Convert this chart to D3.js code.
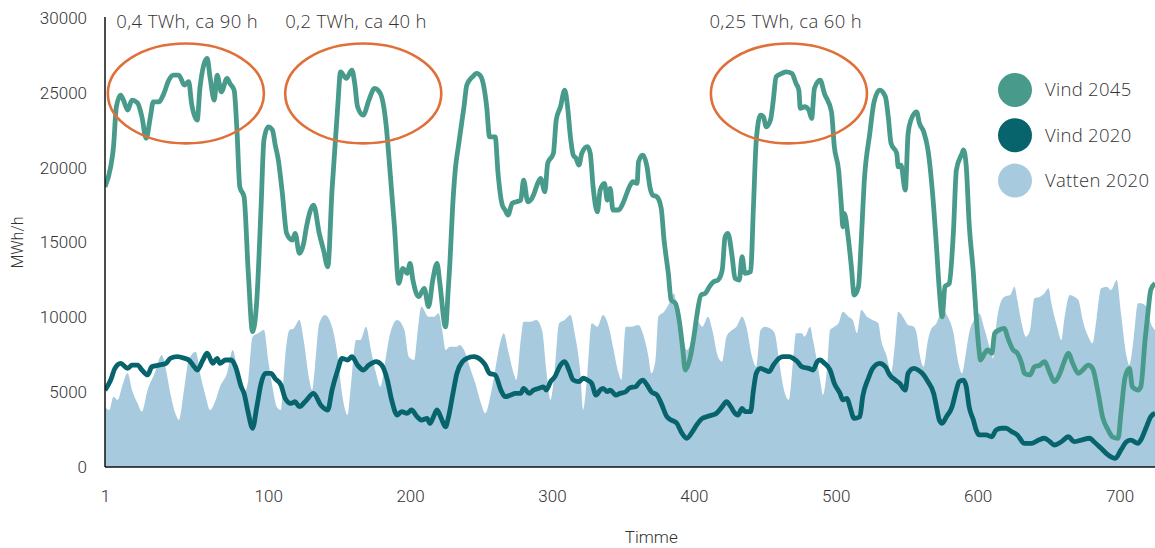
<!DOCTYPE html>
<html>
<head>
<meta charset="utf-8">
<script src="https://cdn.jsdelivr.net/npm/d3@7"></script>
<style>
  html, body { margin: 0; padding: 0; background: #fff; }
  svg { display: block; }
</style>
</head>
<body>
<svg id="chart" width="1155" height="548"></svg>
<script>
// ---------- DATA ----------
// hour positions (x) and MWh/h values
const vind2045Hours = [-15,-11,-9,-7,-4,-2,1,4,8,11,14,17,19,23,26,30,33,37,41,44,46,50,52,57,59,62,64,67,71,73,76,78,80,83,86,89,92,95,97,100,103,105,107,110,113,117,119,122,125,127,132,136,139,142,145,149,151,155,159,161,163,167,171,175,179,183,186,189,192,195,198,200,202,206,210,213,216,219,221,225,227,228,230,232,234,238,240,244,247,250,252,254,256,260,262,265,267,269,272,275,278,280,283,287,289,292,295,297,301,303,306,309,311,313,315,317,319,321,325,327,329,332,334,337,339,341,343,347,350,355,357,360,361,364,367,369,371,374,377,379,382,384,387,390,392,394,397,400,402,405,408,411,414,417,420,422,424,427,429,432,434,436,440,442,444,447,449,451,454,456,458,462,465,469,472,474,475,478,481,483,485,489,492,497,499,502,504,505,506,509,511,513,516,518,520,524,527,531,535,537,539,543,544,546,549,551,553,557,559,562,565,569,571,573,575,577,580,583,585,589,590,592,594,597,599,601,602,605,607,610,612,615,619,621,625,628,631,633,637,640,644,647,651,654,658,661,664,667,671,674,678,681,685,688,692,695,699,701,704,707,709,713,715,718,720,722,725];
const vind2045Values = [18720,20060,21400,24070,24850,24515,23850,24515,24310,23400,21960,23400,24400,24400,24850,25850,26185,26185,25520,25740,24300,23180,25400,27300,26070,24515,26185,25070,25970,25630,25180,22510,18720,18050,12940,9040,11160,17390,21840,22730,22510,21500,20600,18280,15610,15160,15610,14280,14940,16050,17500,15610,14500,13380,18500,24070,26400,25970,26520,25630,24070,23510,24515,25300,24960,22960,19620,16050,12270,13270,12940,13610,12490,11380,11940,10710,12490,13610,12270,9370,12000,13500,17390,20000,21400,24070,25520,26070,26300,26070,25400,24070,22060,22060,19620,17500,17170,16830,17620,17720,17830,19170,17720,18170,18720,19290,18390,20290,20950,23180,24070,25180,24070,22060,20840,20620,20170,20950,21400,20950,18720,17050,18500,18950,17830,18610,17170,17170,17620,18800,19060,18950,20390,20840,20060,18720,18170,18050,17280,15160,12940,11160,10940,9600,8040,6480,7150,8700,10040,11490,11600,12050,12380,12490,13160,15380,15610,14050,12600,12490,14050,12940,13050,17390,21840,23510,23400,22730,23180,24515,26070,26300,26400,26300,25630,25180,23960,24070,23850,23290,25300,25850,24960,23730,21400,19840,17390,16050,16950,15160,13380,11490,12050,15160,18950,22290,24400,25180,24740,23400,21620,20950,20060,20170,18500,22290,23180,23730,22960,22400,21180,17390,14720,11820,10040,12050,12270,15830,19840,20950,21180,20060,16280,12940,10040,7800,7150,7600,7820,7600,8930,9150,9260,8700,7820,7600,6930,6260,6150,6700,6810,7040,6260,5700,6260,7040,7600,6930,6260,6480,6810,6590,4920,3360,2470,2020,1920,3590,6030,6590,5360,5140,5360,8480,10270,11820,12270];

const vind2020Hours = [-15,-11,-8,-4,1,4,8,11,15,18,23,28,31,36,41,44,47,50,54,57,61,64,66,70,74,77,81,83,86,89,92,95,98,102,105,109,112,116,119,122,126,132,137,142,145,149,152,156,159,163,167,171,176,180,184,187,191,194,198,201,205,208,212,214,217,219,222,225,227,230,233,237,240,245,250,253,256,260,264,267,271,274,278,280,284,287,291,294,296,299,302,306,309,312,315,319,322,325,328,331,334,336,339,341,345,348,352,355,359,361,364,367,370,374,377,381,384,388,391,395,399,402,406,409,413,416,420,423,426,429,431,434,436,440,442,444,447,450,453,456,460,463,467,470,473,476,478,481,484,487,489,492,496,499,503,505,508,510,513,517,519,523,526,531,535,538,542,545,549,551,555,558,562,565,569,571,573,575,578,582,585,587,590,592,594,597,599,601,606,610,613,617,620,624,628,633,638,643,647,651,654,659,664,668,673,679,682,687,692,697,701,705,708,713,715,719,722,725];
const vind2020Values = [5140,5810,6590,6930,6590,6810,6810,6480,6150,6700,6810,6930,7260,7370,7260,7150,6810,6480,7150,7600,6930,7260,6930,7150,7150,6700,5360,4920,3590,2590,4030,5590,6260,6260,5900,5480,4590,4250,4360,4030,4360,4920,4140,3810,5140,6480,7260,7150,7370,6810,6480,6810,7040,6810,5810,4480,3470,3700,3590,3810,3360,3140,3250,2920,3470,3810,3250,2690,3300,4800,6260,7040,7260,7370,7150,6810,6260,6150,5140,4700,4810,4920,4920,5260,4920,5140,5260,5360,5140,5700,6030,6810,7040,6480,5810,5700,5930,5810,5590,4810,5140,5260,5030,5140,4810,4920,5030,5300,5360,5590,5810,5480,5030,4810,4250,3360,3140,2920,2360,1920,2360,2810,3250,3360,3470,3590,4030,4360,4030,3590,3470,3920,3700,3700,5140,6260,6590,6480,6370,6810,7260,7370,7370,7260,7040,6700,6650,6590,6480,7040,7150,6930,6480,5590,4920,4480,4590,4030,3250,3360,4700,5930,6590,6930,6700,6150,5810,5590,5140,6260,6590,6480,6150,5700,4920,4030,3140,2920,3360,4030,5140,5700,5810,5360,4030,3140,2470,2140,2140,2020,2470,2590,2590,2360,2140,1580,1580,1800,1920,1690,1470,1690,2020,1690,1800,1920,1690,1250,800,580,1140,1690,1800,1580,1800,2690,3360,3590];

const vatten2020Hours = [-15,-12,-9,-6,-3,1,4,8,11,15,20,25,28,31,35,37,41,44,49,52,56,59,63,66,71,75,77,79,83,86,89,93,97,100,103,106,109,110,112,115,118,122,125,129,131,133,136,140,145,149,152,156,158,162,165,169,172,176,179,183,186,191,196,199,203,205,208,213,217,220,223,225,228,233,235,239,242,246,250,253,257,260,264,266,269,273,275,278,280,285,289,293,296,299,302,305,309,313,316,320,322,325,328,332,336,340,343,347,349,352,356,361,364,368,370,373,375,379,382,386,388,391,395,397,402,406,410,413,417,420,423,427,430,434,437,441,444,447,450,454,457,460,463,467,470,472,476,478,482,484,487,489,491,494,496,499,502,505,509,512,515,518,522,526,530,532,536,539,542,544,548,551,555,557,559,562,565,567,571,575,579,583,586,589,591,594,598,601,605,609,611,613,616,619,623,626,628,631,634,637,640,644,647,650,652,656,659,661,665,668,671,674,678,681,684,687,691,694,698,701,705,707,710,713,715,719,722,725];
const vatten2020Values = [4030,3810,4700,4480,5360,6260,5140,4250,3700,5140,6260,7480,6480,4920,3470,3140,5360,7150,7700,6260,4700,3810,4480,5360,6260,7820,7150,5590,4920,5810,8700,8930,9150,7150,5360,4030,3810,4920,7370,9150,9260,9820,8480,5810,5140,6700,9600,10150,9370,7370,4920,3470,5140,8480,8480,9370,8040,6260,5360,7370,8930,9820,9150,7370,7150,8700,10710,10040,10040,10270,8930,7820,8040,8040,8150,7600,6700,5590,4250,3590,4920,6480,8480,8930,7820,6260,5810,8480,9710,9710,9820,9150,6480,4480,6480,9600,9820,10150,8930,6260,3810,6260,9600,9370,10150,9370,8040,6260,5810,9370,9370,9480,8930,7370,6260,7150,10040,10370,10820,11600,10710,9370,7820,8040,9820,9370,10040,9150,7370,7040,8700,9150,9370,10040,9370,7370,6700,9150,9370,9260,8930,7150,5360,4480,7150,8930,8930,8700,9370,8480,6930,5810,4810,6700,9150,9370,9600,10370,10040,9820,8930,10490,10040,9820,9600,8480,7370,6260,8480,10370,9930,9480,9370,8930,7600,6700,8480,9150,9600,10490,10040,8930,7150,6260,7150,8930,9900,10270,9150,7820,7260,9370,10940,11380,11490,12050,11160,9600,8700,9150,11270,11380,11600,11940,10940,9370,8480,9820,11490,11380,11160,9820,8700,8260,10040,11940,12050,11820,12490,10270,7370,6810,8600,10940,10940,10710,9600,9150];

const yTicks = [0, 5000, 10000, 15000, 20000, 25000, 30000];
const xTickValues = [-15, 100, 200, 300, 400, 500, 600, 700];
const xTickLabels = ["1", "100", "200", "300", "400", "500", "600", "700"];

const seriesNames = ["Vind 2045", "Vind 2020", "Vatten 2020"];

// annotations: label, label anchor hour, ellipse centre hour/value, half-width (h), half-height (MWh/h)
const annoLabels = ["0,4 TWh, ca 90 h", "0,2 TWh, ca 40 h", "0,25 TWh, ca 60 h"];
const annoLabelHours = [-7, 112, 411];
const annoCentreHours = [42, 167, 467];
const annoCentreValues = [24960, 24960, 24960];
const annoHalfHours = [55, 55, 55];
const annoHalfValues = [3340, 3340, 3340];

// ---------- STYLE ----------
const colVind2045 = "#489b8a";
const colVind2020 = "#07646c";
const colVatten = "#a7cade";
const colAnno = "#e07039";
const textCol = "#333";

const W = 1155, H = 548;
const m = { left: 105, right: 0, top: 18, bottom: 81 };
const svg = d3.select("#chart");

const x = d3.scaleLinear().domain([-15, 725]).range([m.left, W - m.right]);
const y = d3.scaleLinear().domain([0, 30000]).range([H - m.bottom, m.top]);

const zip = (hs, vs) => hs.map((h, i) => ({ h, v: vs[i] }));
const d45 = zip(vind2045Hours, vind2045Values);
const d20 = zip(vind2020Hours, vind2020Values);
const dVa = zip(vatten2020Hours, vatten2020Values);

svg.append("defs").append("clipPath").attr("id", "plotclip")
  .append("rect").attr("x", m.left).attr("y", 0)
  .attr("width", W - m.left - m.right).attr("height", H - m.bottom);

const g = svg.append("g").attr("clip-path", "url(#plotclip)");

// area
g.append("path").datum(dVa)
  .attr("fill", colVatten)
  .attr("d", d3.area().x(d => x(d.h)).y0(y(0)).y1(d => y(d.v)).curve(d3.curveMonotoneX));

// ellipses
annoLabels.forEach((t, i) => {
  const cx = x(annoCentreHours[i]);
  const cy = y(annoCentreValues[i]);
  svg.append("ellipse")
    .attr("cx", cx).attr("cy", cy)
    .attr("rx", x(annoCentreHours[i] + annoHalfHours[i]) - cx)
    .attr("ry", y(0) - y(annoHalfValues[i]))
    .attr("fill", "none").attr("stroke", colAnno).attr("stroke-width", 2.6);
});

// lines
const line = d3.line().x(d => x(d.h)).y(d => y(d.v)).curve(d3.curveMonotoneX);
g.append("path").datum(d45)
  .attr("fill", "none").attr("stroke", colVind2045).attr("stroke-width", 4.8)
  .attr("stroke-linejoin", "round").attr("d", line);
g.append("path").datum(d20)
  .attr("fill", "none").attr("stroke", colVind2020).attr("stroke-width", 4.8)
  .attr("stroke-linejoin", "round").attr("d", line);

// axes
const tickFont = "Roboto, 'Liberation Sans', sans-serif";
const yAxis = svg.append("g").attr("transform", `translate(${m.left},0)`)
  .call(d3.axisLeft(y).tickValues(yTicks).tickSize(0).tickPadding(18).tickFormat(d3.format("d")));
yAxis.select(".domain").remove();
yAxis.selectAll("text").attr("font-family", tickFont).attr("font-weight", 300)
  .attr("font-size", 17).attr("fill", textCol);

const xAxis = svg.append("g").attr("transform", `translate(0,${y(0)})`)
  .call(d3.axisBottom(x).tickValues(xTickValues).tickSize(0).tickPadding(23)
    .tickFormat((d, i) => xTickLabels[i]));
xAxis.select(".domain").remove();
xAxis.selectAll("text").attr("font-family", tickFont).attr("font-weight", 300)
  .attr("font-size", 17).attr("fill", textCol);

svg.append("line").attr("x1", m.left).attr("x2", m.left)
  .attr("y1", m.top - 1).attr("y2", y(0)).attr("stroke", "#111").attr("stroke-width", 1.5);
svg.append("line").attr("x1", m.left).attr("x2", W)
  .attr("y1", y(0)).attr("y2", y(0)).attr("stroke", "#111").attr("stroke-width", 1.5);

// axis titles
svg.append("text").attr("transform", `translate(23,${y(15000)}) rotate(-90)`)
  .attr("text-anchor", "middle").attr("font-family", tickFont).attr("font-weight", 300)
  .attr("font-size", 16).attr("fill", textCol).text("MWh/h");
svg.append("text").attr("x", x(370)).attr("y", 543)
  .attr("text-anchor", "middle").attr("font-family", tickFont).attr("font-weight", 300)
  .attr("font-size", 17).attr("fill", textCol).text("Timme");

// annotation labels
const annoFont = "'Open Sans', 'DejaVu Sans', sans-serif";
annoLabels.forEach((t, i) => {
  svg.append("text").attr("x", x(annoLabelHours[i])).attr("y", 28)
    .attr("font-family", annoFont).attr("font-weight", 300).attr("font-size", 18.5)
    .attr("letter-spacing", 0.35)
    .attr("fill", textCol).text(t);
});

// legend
const legColors = [colVind2045, colVind2020, colVatten];
const leg = svg.append("g");
seriesNames.forEach((n, i) => {
  const cy = 90 + i * 45.3;
  leg.append("circle").attr("cx", 1015).attr("cy", cy).attr("r", 17).attr("fill", legColors[i]);
  leg.append("text").attr("x", 1045).attr("y", cy).attr("dy", "0.35em")
    .attr("font-family", annoFont).attr("font-weight", 300).attr("font-size", 18.5)
    .attr("letter-spacing", 0.3)
    .attr("fill", textCol).text(n);
});
</script>
</body>
</html>
